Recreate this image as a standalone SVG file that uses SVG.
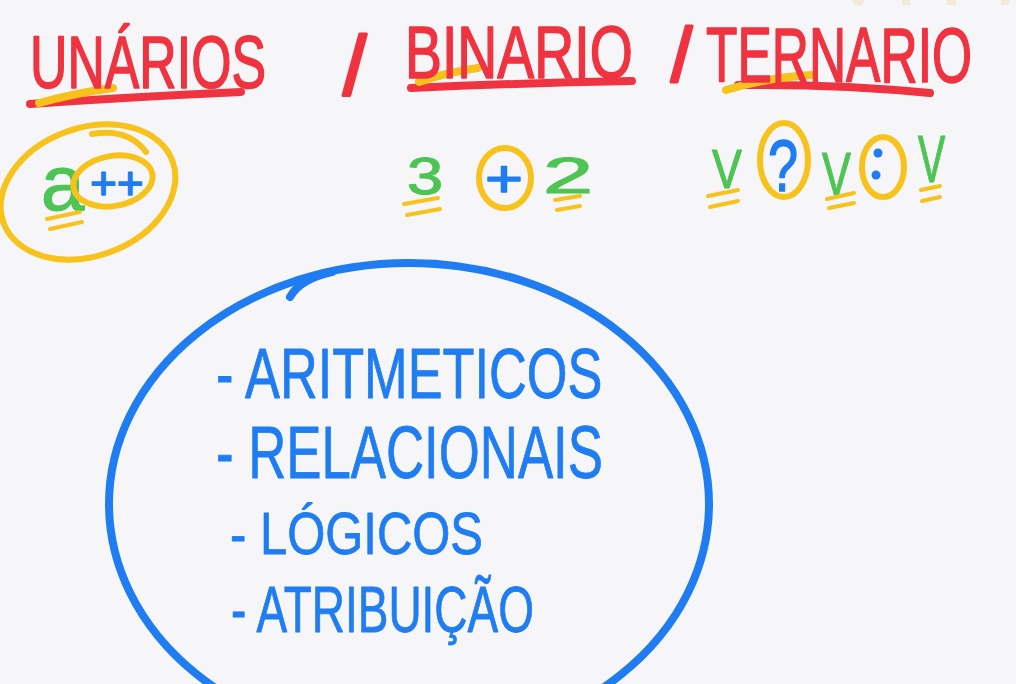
<svg xmlns="http://www.w3.org/2000/svg" width="1016" height="684" viewBox="0 0 1016 684">
<style>
.red{fill:#ef3340;stroke:#ef3340;stroke-width:1.6;stroke-linejoin:round;font-family:"Liberation Sans",Arial,sans-serif}
.grn{fill:#4dc453;stroke:#4dc453;stroke-width:1.2;stroke-linejoin:round;font-family:"Liberation Sans",Arial,sans-serif}
.blu{fill:#1f7df1;stroke:#1f7df1;stroke-width:0.8;stroke-linejoin:round;font-family:"Liberation Sans",Arial,sans-serif}
.ys{fill:none;stroke:#f8c21c;stroke-width:6;stroke-linecap:round;stroke-linejoin:round}
.ysm{fill:none;stroke:#f8c21c;stroke-width:4;stroke-linecap:round}
.rs{fill:none;stroke:#ef3340;stroke-width:8;stroke-linecap:round}
.bs{fill:none;stroke:#1f7df1;stroke-width:8;stroke-linecap:round}
</style>
<rect width="1016" height="684" fill="#f6f6f8"/>
<g id="toolbar" opacity="0.35" fill="#e8d9a8">
<circle cx="858" cy="0" r="6"/><rect x="902" y="0" width="8" height="5"/><rect x="947" y="0" width="9" height="5"/><rect x="1001" y="0" width="8" height="5"/>
</g>
<g id="title-unarios">
<path class="rs" d="M30,104 Q130,97 241,92"/>
<path class="ys" style="stroke-width:8" d="M39,103 Q75,93 113,88"/>
<text class="red" transform="translate(30,88) scale(0.70,1)" font-size="74">UNÁRIOS</text>
</g>
<g id="slash1"><text class="red" x="343" y="95" font-size="84" style="stroke-width:3">/</text></g>
<g id="title-binario">
<path class="rs" d="M411,88 Q520,83 632,81"/>
<path class="ys" style="stroke-width:8" d="M419,82 Q448,72 478,68"/>
<text class="red" transform="translate(405,78) scale(0.749,1)" font-size="74">BINARIO</text>
</g>
<g id="slash2"><text class="red" x="671" y="81" font-size="76" style="stroke-width:3">/</text></g>
<g id="title-ternario">
<path class="rs" d="M738,85 Q840,84 930,93"/>
<path class="ys" style="stroke-width:8" d="M726,90 Q765,78 811,75"/>
<text class="red" transform="translate(706,82) scale(0.66,1)" font-size="78">TERNARIO</text>
</g>
<g id="unary-example">
<ellipse class="ys" cx="88" cy="192" rx="90" ry="64" transform="rotate(-20 88 192)"/>
<path class="ys" d="M92,134 Q128,128 146,152"/>
<text class="grn" x="41" y="210" font-size="78">a</text>
<ellipse class="ys" cx="113" cy="181" rx="40" ry="25" transform="rotate(-10 113 181)"/>
<text class="blu" x="90" y="199" font-size="46" style="stroke-width:1.5">++</text>
<path class="ysm" d="M47,219 L80,212 M50,229 L82,222"/>
</g>
<g id="binary-example">
<text class="grn" transform="translate(407,194) scale(1.25,1)" font-size="52">3</text>
<path class="ysm" d="M404,204 L438,198 M407,215 L440,209"/>
<ellipse class="ys" cx="505" cy="178" rx="26" ry="30"/>
<text class="blu" transform="translate(485,197) scale(1.25,1)" font-size="52" style="stroke-width:1.5">+</text>
<text class="grn" transform="translate(543,193) scale(1.8,1)" font-size="50">2</text>
<path class="ysm" d="M555,200 L580,196 M557,210 L580,206"/>
</g>
<g id="ternary-example">
<text class="grn" transform="translate(712,188) scale(0.8,1)" font-size="56">V</text>
<path class="ysm" d="M708,196 L738,190 M710,207 L738,201"/>
<ellipse class="ys" cx="784" cy="160" rx="24" ry="37"/>
<text class="blu" transform="translate(768,191) scale(0.75,1)" font-size="72" style="stroke-width:1.5">?</text>
<text class="grn" transform="translate(822,195) scale(0.7,1)" font-size="62">V</text>
<path class="ysm" d="M827,199 L854,193 M829,208 L854,203"/>
<ellipse class="ys" cx="883" cy="167" rx="21" ry="30"/>
<circle cx="878" cy="153" r="4.5" fill="#1f7df1"/>
<circle cx="876" cy="175" r="4.5" fill="#1f7df1"/>
<text class="grn" transform="translate(918,182) scale(0.62,1)" font-size="66">V</text>
<path class="ysm" d="M921,190 L940,186 M922,201 L940,197"/>
</g>
<g id="operator-types">
<ellipse class="bs" cx="409" cy="504" rx="300" ry="241"/>
<path class="bs" d="M290,297 Q300,279 332,272"/>
<text class="blu" transform="translate(216,398) scale(0.747,1)" font-size="70">- ARITMETICOS</text>
<text class="blu" transform="translate(216,478) scale(0.713,1)" font-size="74">- RELACIONAIS</text>
<text class="blu" transform="translate(230,554) scale(0.816,1)" font-size="60">- LÓGICOS</text>
<text class="blu" transform="translate(231,632) scale(0.718,1)" font-size="64">- ATRIBUIÇÃO</text>
</g>
</svg>
